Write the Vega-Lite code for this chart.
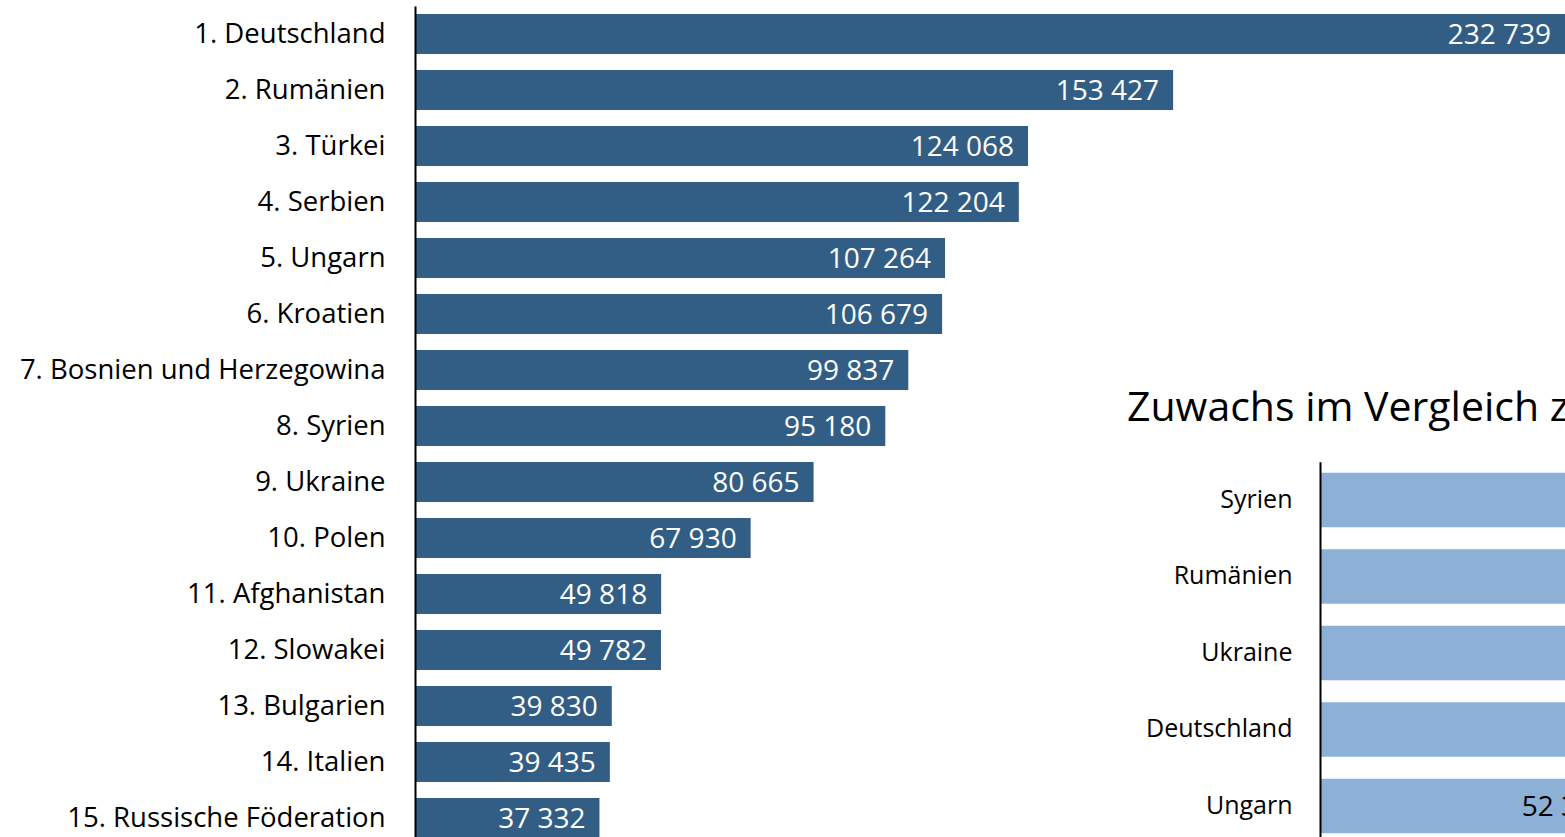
{
  "$schema": "https://vega.github.io/schema/vega-lite/v6.json",
  "description": "Ausländische Staatsangehörige, Top 15, mit Zuwachs-Inset",
  "autosize": "none",
  "padding": {"left": 415, "top": 6, "right": 0, "bottom": 0},
  "width": 1150,
  "height": 840,
  "title": {
    "text": "Zuwachs im Vergleich zu 2015",
    "anchor": "start",
    "frame": "group",
    "baseline": "alphabetic",
    "dx": 712,
    "dy": 460,
    "font": "Open Sans",
    "fontSize": 41,
    "fontWeight": "normal",
    "color": "#000000"
  },
  "datasets": {
    "top15": [
      {"land": "1. Deutschland", "anzahl": 232739},
      {"land": "2. Rumänien", "anzahl": 153427},
      {"land": "3. Türkei", "anzahl": 124068},
      {"land": "4. Serbien", "anzahl": 122204},
      {"land": "5. Ungarn", "anzahl": 107264},
      {"land": "6. Kroatien", "anzahl": 106679},
      {"land": "7. Bosnien und Herzegowina", "anzahl": 99837},
      {"land": "8. Syrien", "anzahl": 95180},
      {"land": "9. Ukraine", "anzahl": 80665},
      {"land": "10. Polen", "anzahl": 67930},
      {"land": "11. Afghanistan", "anzahl": 49818},
      {"land": "12. Slowakei", "anzahl": 49782},
      {"land": "13. Bulgarien", "anzahl": 39830},
      {"land": "14. Italien", "anzahl": 39435},
      {"land": "15. Russische Föderation", "anzahl": 37332}
    ],
    "zuwachs": [
      {"land": "Syrien", "zuwachs": 84000},
      {"land": "Rumänien", "zuwachs": 80000},
      {"land": "Ukraine", "zuwachs": 73000},
      {"land": "Deutschland", "zuwachs": 62000},
      {"land": "Ungarn", "zuwachs": 52325}
    ]
  },
  "layer": [
    {
      "data": {"name": "top15"},
      "encoding": {
        "y": {
          "field": "land",
          "type": "nominal",
          "sort": null,
          "scale": {"paddingInner": 0.2857, "paddingOuter": 0.1429},
          "axis": {
            "orient": "left",
            "zindex": 1,
            "title": null,
            "ticks": false,
            "tickSize": 0,
            "labelPadding": 30,
            "labelOffset": 1,
            "labelFont": "Open Sans",
            "labelFontSize": 27.5,
            "labelColor": "#000000",
            "labelLimit": 600,
            "domainColor": "#000000",
            "domainWidth": 2
          }
        },
        "x": {
          "field": "anzahl",
          "type": "quantitative",
          "scale": {"domain": [0, 232739], "nice": false},
          "axis": null
        }
      },
      "layer": [
        {"mark": {"type": "bar", "color": "#325e86"}},
        {
          "mark": {
            "type": "text",
            "align": "right",
            "baseline": "middle",
            "dx": -14,
            "dy": 2,
            "font": "Open Sans",
            "fontSize": 28,
            "color": "#ffffff"
          },
          "encoding": {"text": {"field": "anzahl", "type": "quantitative", "format": ",d"}}
        }
      ]
    },
    {
      "data": {"name": "zuwachs"},
      "encoding": {
        "y": {
          "field": "land",
          "type": "nominal",
          "sort": null,
          "scale": {"range": [455.7, 838.2], "paddingInner": 0.2857, "paddingOuter": 0.1429},
          "axis": {
            "orient": "left",
            "zindex": 1,
            "title": null,
            "offset": -905,
            "ticks": false,
            "tickSize": 0,
            "labelPadding": 28,
            "labelFont": "Open Sans",
            "labelFontSize": 25,
            "labelColor": "#000000",
            "domainColor": "#000000",
            "domainWidth": 2
          }
        },
        "x": {
          "field": "zuwachs",
          "type": "quantitative",
          "scale": {"domain": [0, 100000], "range": [905, 1484], "nice": false},
          "axis": null
        }
      },
      "layer": [
        {"mark": {"type": "bar", "color": "#8db0d6"}},
        {
          "mark": {
            "type": "text",
            "align": "right",
            "baseline": "middle",
            "dx": -14,
            "dy": 2,
            "font": "Open Sans",
            "fontSize": 28,
            "color": "#000000"
          },
          "encoding": {"text": {"field": "zuwachs", "type": "quantitative", "format": ",d"}}
        }
      ]
    }
  ],
  "resolve": {
    "scale": {"x": "independent", "y": "independent"},
    "axis": {"x": "independent", "y": "independent"}
  },
  "config": {
    "view": {"stroke": null},
    "locale": {
      "number": {
        "decimal": ",",
        "thousands": " ",
        "grouping": [3],
        "currency": ["", " €"]
      }
    }
  }
}
